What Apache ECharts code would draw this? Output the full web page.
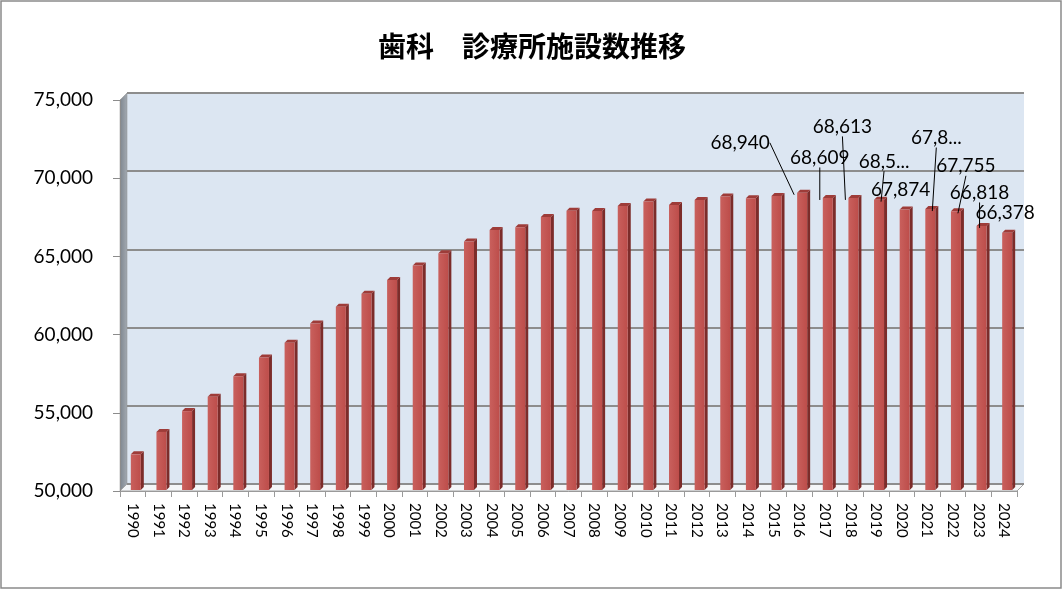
<!DOCTYPE html>
<html>
<head>
<meta charset="utf-8">
<title>歯科 診療所施設数推移</title>
<script src="https://cdn.jsdelivr.net/npm/echarts@6/dist/echarts.min.js"></script>
<style>
    html, body { margin: 0; padding: 0; background: #fff; }
    #chart { width: 1064px; height: 590px; }
</style>
</head>
<body>
<div id="chart"></div>
<script>
    // data
    var years = ['1990', '1991', '1992', '1993', '1994', '1995', '1996', '1997', '1998', '1999',
        '2000', '2001', '2002', '2003', '2004', '2005', '2006', '2007', '2008', '2009',
        '2010', '2011', '2012', '2013', '2014', '2015', '2016', '2017', '2018', '2019',
        '2020', '2021', '2022', '2023', '2024'];
    var clinics = [52216, 53650, 54980, 55906, 57213, 58407, 59357, 60579, 61651, 62484,
        63361, 64297, 65073, 65828, 66557, 66732, 67392, 67798, 67779, 68097,
        68384, 68156, 68474, 68701, 68592, 68737, 68940, 68609, 68613, 68500,
        67874, 67899, 67755, 66818, 66378];
    var labelledYears = ['2016', '2017', '2018', '2019', '2020', '2021', '2022', '2023', '2024'];
    var truncatedYears = ['2019', '2021'];
    var noLeaderYears = ['2020', '2024'];
    var yMin = 50000, yMax = 75000, yStep = 5000;

    // layout (front plane of the 3D box, and depth shift to the back wall)
    var FRONT = { left: 120, top: 100, width: 897, height: 391 };
    var DX = 7, DY = -7;
    var labelOffsets = {
        '2016': [-59, -52], '2017': [-5, -42], '2018': [-8, -73], '2019': [8, -40],
        '2020': [-1, -22], '2021': [9, -73], '2022': [13, -47], '2023': [1, -35], '2024': [1, -22]
    };

    function fmt(v) { return String(v).replace(/\B(?=(\d{3})+(?!\d))/g, ','); }

    var chart = echarts.init(document.getElementById('chart'));

    var fl = FRONT.left, ft = FRONT.top, fr = FRONT.left + FRONT.width, fb = FRONT.top + FRONT.height;

    var labelData = clinics.map(function (v, i) {
        var y = years[i];
        var on = labelledYears.indexOf(y) >= 0;
        var item = {
            value: v,
            label: { show: on },
            labelLine: { show: on && noLeaderYears.indexOf(y) < 0 }
        };
        if (truncatedYears.indexOf(y) >= 0) {
            item.label.width = 55;
            item.label.overflow = 'truncate';
            item.label.ellipsis = '...';
        }
        return item;
    });

    var option = {
        backgroundColor: '#fff',
        animation: false,
        title: {
            text: '歯科　診療所施設数推移',
            left: 'center',
            top: 27,
            textStyle: { fontFamily: 'Noto Sans CJK JP', fontSize: 28, fontWeight: 'bold', color: '#000' }
        },
        graphic: [
            { type: 'rect', shape: { x: 1, y: 1, width: 1060, height: 587 },
              style: { fill: 'none', stroke: '#8a8a8a', lineWidth: 1.5 }, z: 100 },
            // left side wall
            { type: 'polygon', shape: { points: [[fl, ft], [fl + DX, ft + DY], [fl + DX, fb + DY], [fl, fb]] },
              style: { fill: new echarts.graphic.LinearGradient(0, 0, 1, 0, [
                  { offset: 0, color: '#7d858e' }, { offset: 1, color: '#a3aab2' }]), stroke: '#8c8c8c', lineWidth: 0.5 }, z: -5 },
            // floor
            { type: 'polygon', shape: { points: [[fl, fb], [fl + DX, fb + DY], [fr + DX, fb + DY], [fr, fb]] },
              style: { fill: '#f4f6f8', stroke: '#a6a6a6', lineWidth: 1 }, z: -5 }
        ],
        grid: [
            { left: fl, top: ft, width: FRONT.width, height: FRONT.height, containLabel: false },
            { left: fl + DX, top: ft + DY, width: FRONT.width, height: FRONT.height, containLabel: false,
              show: true, backgroundColor: '#dce6f2', borderWidth: 0, z: -10 }
        ],
        xAxis: [
            {
                type: 'category', gridIndex: 0, data: years, boundaryGap: true,
                axisLine: { show: true, lineStyle: { color: '#9a9a9a', width: 1 } },
                axisTick: { show: true, interval: 0, length: 6, lineStyle: { color: '#9a9a9a' } },
                axisLabel: { interval: 0, rotate: -90, margin: 12, fontSize: 15, color: '#000', fontFamily: 'Lato' }
            },
            {
                type: 'category', gridIndex: 1, data: years, boundaryGap: true, show: false
            }
        ],
        yAxis: [
            {
                type: 'value', gridIndex: 0, min: yMin, max: yMax, interval: yStep,
                axisLine: { show: true, lineStyle: { color: '#8c8c8c' } },
                axisTick: { show: true, length: 7, lineStyle: { color: '#8c8c8c' } },
                splitLine: { show: false },
                axisLabel: { margin: 27, fontSize: 19, color: '#000', fontFamily: 'Lato', formatter: fmt }
            },
            {
                type: 'value', gridIndex: 1, min: yMin, max: yMax, interval: yStep,
                axisLine: { show: false }, axisTick: { show: false }, axisLabel: { show: false },
                splitLine: { show: true, lineStyle: { color: '#8d8d8d', width: 2 } }
            }
        ],
        series: [
            {
                type: 'custom',
                xAxisIndex: 0, yAxisIndex: 0,
                data: clinics.map(function (v, i) { return [i, v]; }),
                z: 3,
                silent: true,
                renderItem: function (params, api) {
                    var top = api.coord([api.value(0), api.value(1)]);
                    var base = api.coord([api.value(0), yMin]);
                    var w = 10, side = 3, cx = top[0] + 3;
                    var x0 = cx - w / 2, x1 = cx + w / 2, y0 = top[1] - 2, y1 = base[1] - 1;
                    return {
                        type: 'group',
                        children: [
                            { type: 'polygon', shape: { points: [[x1, y0], [x1 + side, y0 - side], [x1 + side, y1 - side], [x1, y1]] },
                              style: { fill: '#7c2c2a' } },
                            { type: 'polygon', shape: { points: [[x0, y0], [x0 + side, y0 - side], [x1 + side, y0 - side], [x1, y0]] },
                              style: { fill: '#9e3c39' } },
                            { type: 'rect', shape: { x: x0, y: y0, width: w, height: y1 - y0 },
                              style: { fill: new echarts.graphic.LinearGradient(0, 0, 1, 0, [
                                  { offset: 0, color: '#c9605d' }, { offset: 1, color: '#bd4d4a' }]) } }
                        ]
                    };
                }
            },
            {
                type: 'bar',
                xAxisIndex: 0, yAxisIndex: 0,
                data: labelData,
                barWidth: 10,
                z: 5,
                silent: true,
                itemStyle: { color: 'rgba(0,0,0,0)' },
                label: {
                    position: 'top', fontSize: 19, color: '#000', fontFamily: 'Lato',
                    formatter: function (p) { return fmt(p.value); }
                },
                labelLine: { lineStyle: { color: '#000', width: 1 } },
                labelLayout: function (p) {
                    var off = labelOffsets[years[p.dataIndex]];
                    if (!off) return {};
                    return {
                        x: p.rect.x + p.rect.width / 2 + off[0],
                        y: p.rect.y + off[1],
                        align: 'center',
                        verticalAlign: 'middle'
                    };
                }
            }
        ]
    };
    chart.setOption(option);
</script>
</body>
</html>
